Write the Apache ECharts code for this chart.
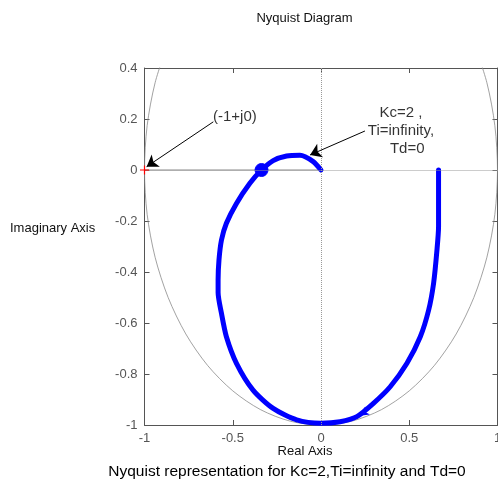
<!doctype html>
<html lang="en">
<head>
    <meta charset="UTF-8">
    <title>Nyquist Diagram</title>
    <script src="https://cdn.jsdelivr.net/npm/echarts@6/dist/echarts.min.js"></script>
    <style>
        html, body { margin: 0; padding: 0; background: #fff; }
    </style>
</head>
<body>
<div id="main" style="width:498px; height:483px;"></div>

<script>
    // Nyquist curve of the loop (real, imaginary)
    var nyquistPts = [
        [0.0, 0.0], [-0.044, 0.033], [-0.119, 0.058], [-0.195, 0.055], [-0.271, 0.037],
        [-0.337, 0.0], [-0.403, -0.052], [-0.479, -0.131], [-0.536, -0.209], [-0.564, -0.275],
        [-0.578, -0.353], [-0.583, -0.431], [-0.583, -0.48], [-0.564, -0.562], [-0.536, -0.654],
        [-0.479, -0.758], [-0.385, -0.863], [-0.271, -0.935], [-0.138, -0.980], [0.0, -0.993],
        [0.108, -0.987], [0.203, -0.967], [0.297, -0.915], [0.392, -0.850], [0.487, -0.758],
        [0.5625, -0.654], [0.610, -0.549], [0.638, -0.444], [0.657, -0.314], [0.666, -0.222],
        [0.666, -0.118], [0.666, 0.0]
    ];
    var crossingPt = [[-0.337, 0.0]];      // big dot where curve crosses real axis
    var criticalPt = [[-1, 0]];            // red "+" at -1+j0
    var realSegment = [[-1, 0], [0, 0]];   // solid part of the real axis
    var dirArrowAt = [0.21, -0.965];       // small direction arrow on the curve

    // unit circle, every 10 degrees
    var unitCircle = [
        [0.866, 0.5], [0.940, 0.342], [0.985, 0.174], [1, 0], [0.985, -0.174], [0.940, -0.342],
        [0.866, -0.5], [0.766, -0.643], [0.643, -0.766], [0.5, -0.866], [0.342, -0.940],
        [0.174, -0.985], [0, -1], [-0.174, -0.985], [-0.342, -0.940], [-0.5, -0.866],
        [-0.643, -0.766], [-0.766, -0.643], [-0.866, -0.5], [-0.940, -0.342], [-0.985, -0.174],
        [-1, 0], [-0.985, 0.174], [-0.940, 0.342], [-0.866, 0.5]
    ];

    // annotation texts and arrows (data coords)
    var noteTexts = ['(-1+j0)', 'Kc=2 ,\nTi=infinity,\n   Td=0'];
    var notePos = [[-0.488, 0.210], [0.453, 0.153]];
    var arrowTails = [[-0.610, 0.189], [0.249, 0.153]];
    var arrowHeads = [[-0.988, 0.013], [-0.062, 0.059]];

    var axisGray = '#555';
    var font = 'Liberation Sans, Arial, sans-serif';

    var myChart = echarts.init(document.getElementById('main'));

    var noteData = noteTexts.map(function (t, i) {
        return { value: notePos[i], label: { formatter: t } };
    });
    var arrowData = arrowTails.map(function (t, i) {
        return [{ coord: t }, { coord: arrowHeads[i] }];
    });

    function axisStyle(pos, labels) {
        return {
            type: 'value', position: pos,
            axisLine: { show: true, onZero: false, lineStyle: { color: axisGray } },
            axisTick: { show: true, inside: true, length: 5, lineStyle: { color: axisGray } },
            axisLabel: { show: labels, color: axisGray, fontSize: 13, margin: 7, fontFamily: font },
            splitLine: { show: false }
        };
    }

    var xBottom = axisStyle('bottom', true), xTop = axisStyle('top', false);
    var yLeft = axisStyle('left', true), yRight = axisStyle('right', false);
    [xBottom, xTop].forEach(function (a) { a.min = -1; a.max = 1; a.interval = 0.5; });
    [yLeft, yRight].forEach(function (a) { a.min = -1; a.max = 0.4; a.interval = 0.2; });

    var tStyle = { fontSize: 13, fontWeight: 'normal', color: '#111', fontFamily: font };

    myChart.setOption({
        animation: false,
        title: [
            { text: 'Nyquist Diagram', left: 304.5, top: 12, textAlign: 'center', padding: 0, textStyle: tStyle },
            { text: 'Imaginary Axis', left: 10, top: 222, padding: 0, textStyle: tStyle },
            { text: 'Real Axis', left: 305, top: 445, textAlign: 'center', padding: 0, textStyle: tStyle },
            { text: 'Nyquist representation for Kc=2,Ti=infinity and Td=0', left: 287, top: 464,
              textAlign: 'center', padding: 0,
              textStyle: { fontSize: 15.5, fontWeight: 'normal', color: '#000', fontFamily: font } }
        ],
        grid: { left: 144.5, right: 0.5, top: 68, bottom: 58, outerBoundsMode: 'none', containLabel: false },
        xAxis: [xBottom, xTop],
        yAxis: [yLeft, yRight],
        series: [
            {
                name: 'unit circle',
                type: 'line',
                data: unitCircle,
                showSymbol: false,
                smooth: 0.3,
                lineStyle: { color: '#8a8a8a', width: 0.8 },
                markLine: {
                    silent: true,
                    symbol: 'none',
                    label: { show: false },
                    lineStyle: { color: '#999', type: 'dotted', width: 1 },
                    data: [{ xAxis: 0 }, { yAxis: 0 }]
                },
                z: 1
            },
            {
                name: 'real axis',
                type: 'line',
                data: realSegment,
                showSymbol: false,
                lineStyle: { color: '#8a8a8a', width: 1.2 },
                z: 1
            },
            {
                name: 'nyquist',
                type: 'line',
                data: nyquistPts,
                showSymbol: false,
                smooth: 0.25,
                lineStyle: { color: '#0000ff', width: 5, cap: 'round', join: 'round' },
                markPoint: {
                    silent: true,
                    label: { show: false },
                    itemStyle: { color: '#0000ff' },
                    data: [{ coord: dirArrowAt, symbol: 'arrow', symbolSize: [7, 11], symbolRotate: 120 }]
                },
                z: 3
            },
            {
                name: 'crossing',
                type: 'scatter',
                data: crossingPt,
                symbol: 'circle',
                symbolSize: 13,
                silent: true,
                itemStyle: { color: '#0000ff', borderColor: '#0000ff', borderWidth: 1, opacity: 1 },
                z: 4
            },
            {
                name: 'critical',
                type: 'scatter',
                data: criticalPt,
                symbol: 'path://M0,5H10M5,0V10',
                symbolSize: 9,
                itemStyle: { color: 'none', borderColor: '#ff0000', borderWidth: 1.2, opacity: 1 },
                z: 5
            },
            {
                name: 'notes',
                type: 'scatter',
                data: noteData,
                symbolSize: 0,
                label: {
                    show: true, position: 'inside', align: 'center', verticalAlign: 'middle',
                    color: '#000', fontSize: 15, lineHeight: 18, fontFamily: font
                },
                markLine: {
                    silent: true,
                    symbol: ['none', 'arrow'],
                    symbolSize: 11,
                    label: { show: false },
                    lineStyle: { color: '#000', type: 'solid', width: 1 },
                    data: arrowData
                },
                z: 6
            }
        ]
    });
</script>
</body>
</html>
